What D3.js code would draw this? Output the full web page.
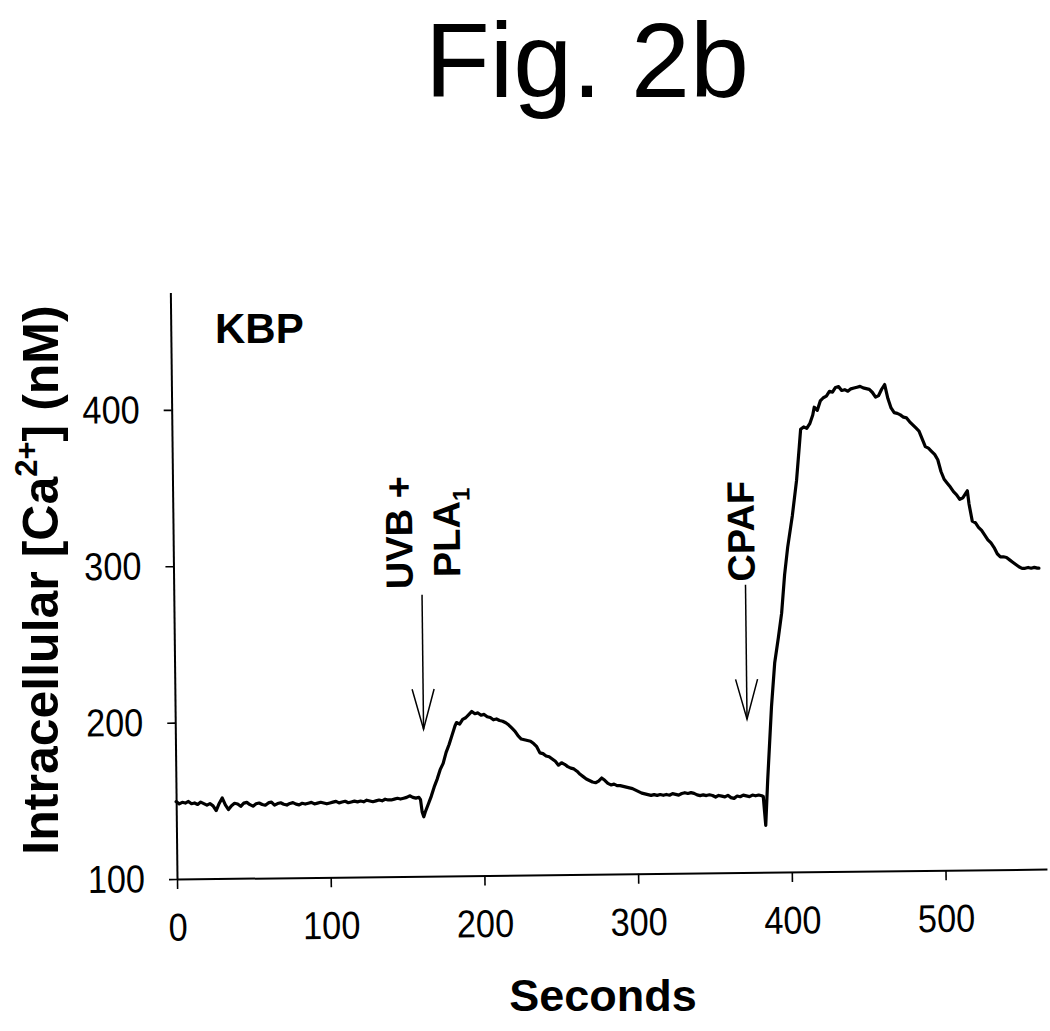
<!DOCTYPE html>
<html><head><meta charset="utf-8">
<script src="https://cdn.jsdelivr.net/npm/d3@7"></script>
<style>
body{margin:0;background:#fff}
text{font-family:"Liberation Sans",Arial,Helvetica,sans-serif;fill:#000}
</style>
</head><body>
<svg id="chart" width="1050" height="1031"></svg>
<script>
// ---- data ----
const seconds = [0,2,4,6,8,10,12,14,16,18,20,22,24,26,28,30,32,34,36,38,40,42,44,46,48,50,52,54,56,58,60,62,64,66,68,70,72,74,76,78,80,82,84,86,88,90,92,94,96,98,100,102,104,106,108,110,112,114,116,118,120,122,124,126,128,130,132,134,136,138,140,142,144,146,148,150,152,154,156,158,159,160,161,162,164,166,168,170,172,174,176,178,180,182,183,185,187,189,191,193,195,197,199,201,203,205,207,209,211,213,215,217,219,221,223,225,227,229,231,233,235,237,239,241,243,245,247,249,251,253,255,257,259,261,263,265,267,269,271,273,275,277,279,281,283,285,287,289,291,293,295,297,299,301,303,305,307,309,311,313,315,317,319,321,323,325,327,329,331,333,335,337,339,341,343,345,347,349,351,353,355,357,359,361,363,365,367,369,371,373,375,377,379,381,382,383.4,385,388,390.4,393,395.3,397.5,399.7,403,406,408,409,411,413,415,417,418,420,422,424,426,428,430,432,434,436,438,440,442,444,446,448,450,452,454,456,458,460,462,464,466,468,470,472,474,476,478,480,482,484,486,488,490,492,494,496,498,500,502,504,506,508,510,512,514,516,517,518,520,522,524,526,528,530,532,534,536,538,540,542,544,546,548,550,552,554,556,558,560,562,563];
const calcium = [149.5,148,149,148.5,149.5,148,148.5,147.5,149,148,147,148,146.5,143.5,148,151.5,147,144,146.5,148,147.5,146,148,148.5,147,146,147.5,148,147,146.5,148,148.5,146.5,147.5,148,147,146.5,147.5,148,147,146.5,147.5,147,147.5,148,147,147.5,148,147.5,147,147.5,148,148.5,147.5,148,148.5,147.5,148,148.5,148,148.5,148,149,148.5,148,148.5,149,148.5,149.5,149,149,149.5,150,149.5,150,150.5,151.5,150.5,150,150.5,149,141,138,141,146,151,157,162,168,172,179,184,190,196,198,197,200,201,203,205,203.5,204,202.5,203,201.5,201,199.5,200,199,198.5,197.5,196,194,192,189,187,186.5,186,185.5,184,182,178,177.5,176,175.5,174,172.5,170,171.5,170.5,169,168,167.5,166,164,162.5,161,160,159,158.5,159.5,161.5,160,158,157,157.5,156.5,156.5,156,155.5,155,154.5,153.5,152.5,151.5,151,150.5,150,150.5,150,150.5,150,150.5,150,151,150.5,150,151,151.5,151,151.5,151,150,149.5,150,149.5,150,149.5,148.5,149.5,149,148.5,149.5,148,147.5,149,148.5,149.5,149,148.5,149.5,149,149.5,149,148.5,130,159,205.7,233.7,250,265.6,290,307.6,328,350.5,372,383,384.5,383.5,386.5,392,397,395,401,403,404,407,406.5,409.5,410,407.5,408,407,408.5,409,409.5,410,409,408.5,408,406,403,404,408,411,402,396,393,392.5,391.5,390,389.5,387,385,383,381,376,371,370,368,366,362.5,355,350,347.5,345,342,340,337,338,341,342.5,334,323,322,319,317,314,311,309,306,302,300,300,299.5,298,296.5,295,293.5,292.5,292.5,293,292.5,293,292.5,292.5];
const xTicks = [0,100,200,300,400,500];
const yTicks = [100,200,300,400];
const xDomain = [0,566];
const yDomain = [100,475];
const title = "Fig. 2b";
const panelLabel = "KBP";
const xLabel = "Seconds";
const arrowTimes = [161.5, 372];
const arrowTops = [280, 284];
const arrowTips = [194, 198];

// ---- drawing ----
const svg = d3.select("#chart");
svg.append("rect").attr("width",1050).attr("height",1031).attr("fill","#fff");

svg.append("text").attr("x",587).attr("y",97).attr("text-anchor","middle")
  .attr("font-size",106).text(title);

const W = 870, H = 586.5;
const g = svg.append("g").attr("transform","translate(177,879) rotate(-0.65)");
const x = d3.scaleLinear().domain(xDomain).range([0,W]);
const y = d3.scaleLinear().domain(yDomain).range([0,-H]);

const sx = 0.88;
const yAxis = g.append("g").call(d3.axisLeft(y).tickValues(yTicks).tickSize(8).tickPadding(22).tickSizeOuter(0));
const xAxis = g.append("g").call(d3.axisBottom(x).tickValues(xTicks).tickSize(10).tickPadding(24).tickSizeOuter(0));
[xAxis,yAxis].forEach(a=>{
  a.select(".domain").attr("stroke","#000").attr("stroke-width",2);
  a.selectAll(".tick line").attr("stroke","#000").attr("stroke-width",1.6);
  a.selectAll(".tick text").attr("font-size",39).attr("font-family",'"Liberation Sans",Arial,sans-serif').attr("fill","#000");
});
xAxis.selectAll(".tick text").attr("transform",`scale(${sx},1)`);
yAxis.selectAll(".tick text").attr("x",-32/sx).attr("transform",`scale(${sx},1)`);

// trace
const pts = seconds.map((s,i)=>[s,calcium[i]]);
g.append("path").datum(pts)
  .attr("fill","none").attr("stroke","#000").attr("stroke-width",3.2)
  .attr("stroke-linejoin","round").attr("stroke-linecap","round")
  .attr("d", d3.line().x(d=>x(d[0])).y(d=>y(d[1])));

// arrows
arrowTimes.forEach((t,i)=>{
  const ax = x(t), y0 = y(arrowTops[i]), y1 = y(arrowTips[i]);
  g.append("line").attr("x1",ax).attr("x2",ax).attr("y1",y0).attr("y2",y1)
    .attr("stroke","#000").attr("stroke-width",1.5);
  g.append("path").attr("d",`M${ax-11},${y1-40}L${ax},${y1}L${ax+11},${y1-40}`)
    .attr("fill","none").attr("stroke","#000").attr("stroke-width",1.5);
});

// arrow labels (rotated)
function vlabel(t,v,parts){
  const px = x(t), py = y(v);
  const tx = g.append("text").attr("transform",`translate(${px},${py}) rotate(-90)`)
    .attr("font-size",38).attr("font-weight","bold").attr("text-anchor","start");
  parts.forEach(p=>{
    const ts = tx.append("tspan").text(p.t);
    if(p.sub){ ts.attr("font-size",24).attr("dy",10); }
  });
}
vlabel(155.5,283.7,[{t:"UVB +"}]);
vlabel(186.5,291,[{t:"PLA"},{t:"1",sub:true}]);
vlabel(378,286,[{t:"CPAF"}]);

// panel label
svg.append("text").attr("x",215).attr("y",343).attr("font-size",42).attr("font-weight","bold").text(panelLabel);

// y label
const yl = svg.append("text").attr("transform","translate(58,580) rotate(-90)")
  .attr("text-anchor","middle").attr("font-size",50).attr("font-weight","bold");
yl.append("tspan").text("Intracellular [Ca");
yl.append("tspan").text("2+").attr("font-size",31).attr("dy",-21);
yl.append("tspan").text("] (nM)").attr("dy",21);

// x label
svg.append("text").attr("x",603).attr("y",1011).attr("text-anchor","middle")
  .attr("font-size",45).attr("font-weight","bold").text(xLabel);
</script>
</body></html>
